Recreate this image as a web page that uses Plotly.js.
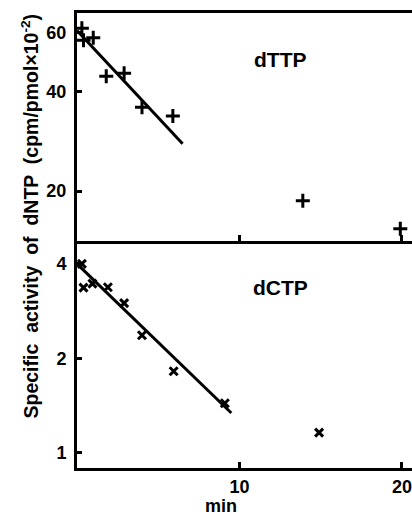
<!DOCTYPE html>
<html>
<head>
<meta charset="utf-8">
<script src="https://cdn.plot.ly/plotly-3.0.1.min.js"></script>
<style>html,body{margin:0;padding:0;background:#fff;}#chart{width:412px;height:516px;}</style>
</head>
<body>
<div id="chart"></div>
<script>
// dTTP panel (top)
const dttpTime = [0.3, 0.4, 1.0, 1.8, 2.9, 4.0, 5.9, 13.9, 19.9];
const dttpValue = [62, 57, 58, 44.4, 45.3, 35.8, 33.7, 18.7, 15.4];
const dttpFitTime = [0, 6.5];
const dttpFitValue = [61, 27.8];
// dCTP panel (bottom)
const dctpTime = [0.3, 0.4, 0.95, 1.9, 2.9, 4.0, 5.95, 9.1, 14.9];
const dctpValue = [4.0, 3.36, 3.46, 3.37, 3.0, 2.37, 1.82, 1.44, 1.16];
const dctpFitTime = [0, 9.5];
const dctpFitValue = [4.0, 1.34];
// ticks
const xTicks = [10, 20];
const topYTicks = [20, 40, 60];
const bottomYTicks = [1, 2, 4];

const F = 'Liberation Sans, Arial, sans-serif';
const traces = [
  {x: dttpTime, y: dttpValue, xaxis: 'x2', yaxis: 'y2', mode: 'markers', type: 'scatter',
   marker: {symbol: 'cross-thin-open', size: 10, color: '#000', line: {color: '#000', width: 3}}},
  {x: dttpFitTime, y: dttpFitValue, xaxis: 'x2', yaxis: 'y2', mode: 'lines', type: 'scatter',
   line: {color: '#000', width: 3}},
  {x: dctpTime, y: dctpValue, xaxis: 'x', yaxis: 'y', mode: 'markers', type: 'scatter',
   marker: {symbol: 'x-thin-open', size: 8, color: '#000', line: {color: '#000', width: 3}}},
  {x: dctpFitTime, y: dctpFitValue, xaxis: 'x', yaxis: 'y', mode: 'lines', type: 'scatter',
   line: {color: '#000', width: 3}}
];

const axFont = {family: F, size: 18, color: '#000', weight: 'bold'};
const layout = {
  width: 412, height: 516,
  margin: {l: 77, r: 0, t: 13, b: 48},
  showlegend: false,
  paper_bgcolor: '#fff', plot_bgcolor: '#fff',
  xaxis: {domain: [0, 1], range: [0, 20.62], anchor: 'y', showline: true, linewidth: 3, linecolor: '#000',
          ticks: 'inside', tickvals: xTicks, ticklen: 6, tickwidth: 3, tickcolor: '#000',
          showgrid: false, zeroline: false, tickfont: axFont},
  xaxis2: {domain: [0, 1], range: [0, 20.62], anchor: 'y2', matches: 'x', showline: true, linewidth: 3,
           linecolor: '#000', mirror: true, ticks: 'inside', tickvals: xTicks, ticklen: 6, tickwidth: 3,
           tickcolor: '#000', showticklabels: false, showgrid: false, zeroline: false},
  yaxis: {domain: [0, 0.499], type: 'log', range: [-0.048, 0.675], anchor: 'x', showline: true, linewidth: 3,
          linecolor: '#000', ticks: 'inside', tickvals: bottomYTicks, ticktext: bottomYTicks.map(String),
          ticklen: 5, tickwidth: 3, tickcolor: '#000', showgrid: false, zeroline: false, tickfont: axFont,
          ticklabelstandoff: 4},
  yaxis2: {domain: [0.499, 1], type: 'log', range: [1.151, 1.838], anchor: 'x2', showline: true, linewidth: 3,
           linecolor: '#000', ticks: 'inside', tickvals: topYTicks, ticktext: topYTicks.map(String),
           ticklen: 5, tickwidth: 3, tickcolor: '#000', showgrid: false, zeroline: false, tickfont: axFont,
           ticklabelstandoff: 4},
  annotations: [
    {text: 'dTTP', xref: 'paper', yref: 'paper', x: 0.606, y: 0.897, xanchor: 'center', yanchor: 'middle',
     showarrow: false, font: {family: F, size: 21, color: '#000', weight: 'bold'}},
    {text: 'dCTP', xref: 'paper', yref: 'paper', x: 0.606, y: 0.396, xanchor: 'center', yanchor: 'middle',
     showarrow: false, font: {family: F, size: 21, color: '#000', weight: 'bold'}},
    {text: 'min', xref: 'paper', yref: 'paper', x: 0.43, y: -0.0835, xanchor: 'center', yanchor: 'middle',
     showarrow: false, font: {family: F, size: 18, color: '#000', weight: 'bold'}},
    {text: 'Specific  activity  of  dNTP  (cpm/pmol\u00d710<sup>-2</sup>)', xref: 'paper', yref: 'paper',
     x: -0.14, y: 0.553, xanchor: 'center', yanchor: 'middle', textangle: -90, showarrow: false,
     font: {family: F, size: 19.5, color: '#000', weight: 'bold'}}
  ]
};
Plotly.newPlot('chart', traces, layout, {displayModeBar: false, staticPlot: true});
</script>
</body>
</html>
